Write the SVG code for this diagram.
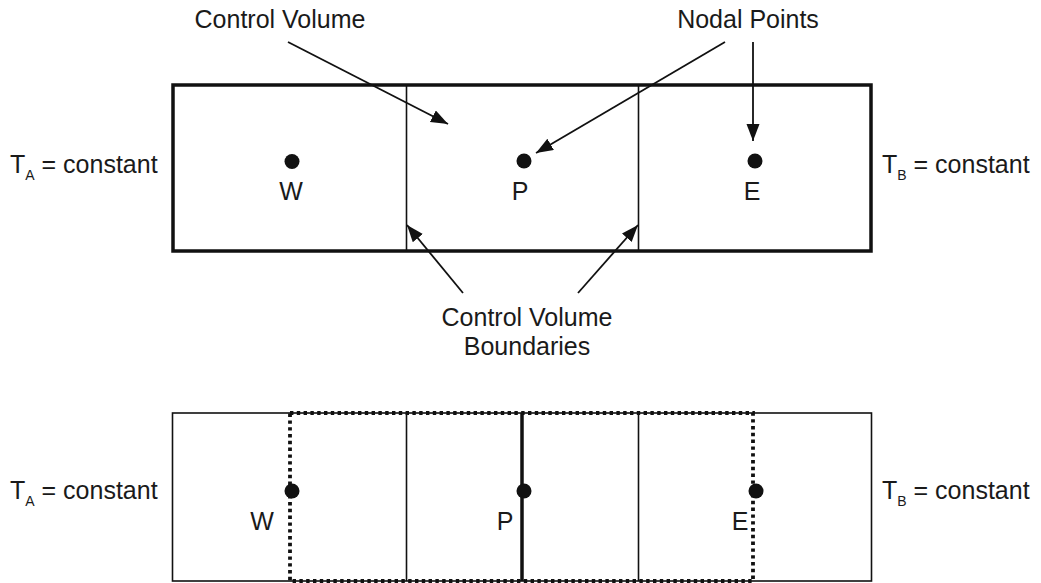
<svg xmlns="http://www.w3.org/2000/svg" width="1041" height="583" viewBox="0 0 1041 583">
<style>
text{font-family:"Liberation Sans",Arial,sans-serif;font-size:25px;fill:#1a1a1a}
.thick{fill:none;stroke:#111;stroke-width:3.5}
.thin{fill:none;stroke:#111;stroke-width:1.6}
.dot{fill:#111}
.arr{stroke:#111;stroke-width:1.8;fill:none;marker-end:url(#ah)}
.dotted{fill:none;stroke:#111;stroke-width:3.8;stroke-dasharray:3.4 3.4}
.sub{font-size:14px}
</style>
<defs>
<marker id="ah" markerUnits="userSpaceOnUse" markerWidth="18" markerHeight="14" refX="17" refY="6.5" orient="auto">
<path d="M0,0 L17,6.5 L0,13 z" fill="#111"/>
</marker>
</defs>
<rect width="1041" height="583" fill="#fff"/>

<g id="top-grid">
<rect class="thick" x="173" y="85" width="698" height="166"/>
<line class="thin" x1="406.5" y1="85" x2="406.5" y2="251"/>
<line class="thin" x1="638.5" y1="85" x2="638.5" y2="251"/>
</g>
<g id="top-W"><circle class="dot" cx="292" cy="161.5" r="7.5"/><text x="291" y="200" text-anchor="middle">W</text></g>
<g id="top-P"><circle class="dot" cx="524" cy="161" r="7.5"/><text x="520" y="200" text-anchor="middle">P</text></g>
<g id="top-E"><circle class="dot" cx="755" cy="161" r="7.5"/><text x="752" y="200" text-anchor="middle">E</text></g>
<g id="top-TA"><text x="10" y="173">T<tspan class="sub" dy="7">A</tspan><tspan dy="-7"> = constant</tspan></text></g>
<g id="top-TB"><text x="882" y="173">T<tspan class="sub" dy="7">B</tspan><tspan dy="-7"> = constant</tspan></text></g>
<g id="label-cv"><text x="280" y="28" text-anchor="middle">Control Volume</text></g>
<g id="label-np"><text x="748" y="28" text-anchor="middle">Nodal Points</text></g>
<g id="label-cvb"><text x="527" y="326" text-anchor="middle">Control Volume</text><text x="527" y="355" text-anchor="middle">Boundaries</text></g>

<g id="connectors">
<line class="arr" x1="288" y1="42" x2="448" y2="124"/>
<line class="arr" x1="725" y1="42" x2="536" y2="153"/>
<line class="arr" x1="753" y1="42" x2="753" y2="141"/>
<line class="arr" x1="463" y1="293" x2="407" y2="225"/>
<line class="arr" x1="578" y1="293" x2="638" y2="225"/>
</g>

<g id="bottom-grid">
<rect class="thin" x="172.5" y="413" width="699" height="168"/>
<line class="thin" x1="406.5" y1="413" x2="406.5" y2="581"/>
<line class="thin" x1="638.5" y1="413" x2="638.5" y2="581"/>
<line class="thick" x1="522" y1="413" x2="522" y2="581"/>
<rect class="dotted" x="290" y="413" width="463" height="168"/>
</g>
<g id="bot-W"><circle class="dot" cx="292" cy="491" r="7.5"/><text x="262" y="530" text-anchor="middle">W</text></g>
<g id="bot-P"><circle class="dot" cx="524" cy="491" r="7.5"/><text x="505" y="530" text-anchor="middle">P</text></g>
<g id="bot-E"><circle class="dot" cx="756" cy="491" r="7.5"/><text x="740" y="530" text-anchor="middle">E</text></g>
<g id="bot-TA"><text x="10" y="499">T<tspan class="sub" dy="7">A</tspan><tspan dy="-7"> = constant</tspan></text></g>
<g id="bot-TB"><text x="882" y="499">T<tspan class="sub" dy="7">B</tspan><tspan dy="-7"> = constant</tspan></text></g>
</svg>
